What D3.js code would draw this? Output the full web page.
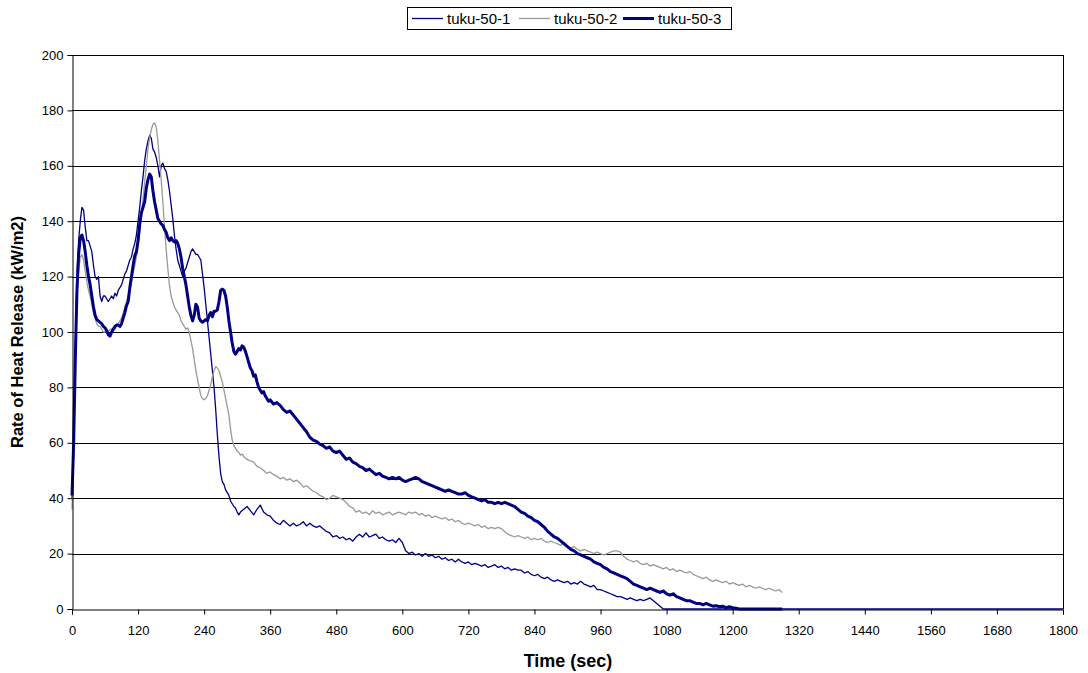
<!DOCTYPE html>
<html>
<head>
<meta charset="utf-8">
<script src="https://cdn.jsdelivr.net/npm/d3@7"></script>
<style>
  html, body { margin: 0; padding: 0; background: #fff; }
  svg { display: block; font-family: "Liberation Sans", Arial, sans-serif; }
</style>
</head>
<body>
<svg id="chart" width="1088" height="673"></svg>
<script>
// Heat release rate curves for three tuku-50 specimens
const seriesNames = ["tuku-50-1", "tuku-50-2", "tuku-50-3"];
const xTicks = [0,120,240,360,480,600,720,840,960,1080,1200,1320,1440,1560,1680,1800];
const yTicks = [0,20,40,60,80,100,120,140,160,180,200];

const t1 = [0,3,6,9,12,15,18,21,24,27,30,33,36,39,42,45,48,51,54,57,60,63,66,69,72,75,78,81,84,87,90,93,96,99,102,105,108,111,114,117,120,123,126,129,132,135,138,141,144,147,150,153,156,159,162,165,168,171,174,177,180,183,186,189,192,195,198,201,204,207,210,213,216,219,222,225,228,231,234,237,240,243,246,249,252,255,258,261,264,267,270,273,276,279,282,285,288,291,294,297,300,303,
306,312,318,324,330,336,342,348,354,360,366,372,378,384,390,396,402,408,414,420,426,432,438,444,450,456,462,468,474,480,486,492,498,504,510,516,522,528,534,540,546,552,558,564,570,576,582,588,594,600,606,612,618,624,630,636,642,648,654,660,666,672,678,684,690,696,702,708,714,720,726,732,738,744,750,756,762,768,774,780,786,792,798,804,810,816,822,828,834,840,846,852,858,864,870,876,882,888,894,900,906,912,918,924,930,936,942,948,954,960,966,972,978,984,990,996,1002,1008,1014,1020,1026,1032,1038,1044,1050,1056,1062,1068,1074,1800];
const v1 = [40,60,95,120,133,140,145,144,138,133,133,131,129,124,120,119,120,113,111,113,113,112,111,112,113,112,114,113,115,116,117,119,121,122,124,126,127,130,132,135,140,145,151,156,162,166,169,171,170,166,165,163,160,156,160,161,159,158,155,151,146,141,135,130,126,124,122,120,122,123,125,127,129,130,129,128,128,127,126,121,116,110,104,98,92,86,80,72,63,55,49,46,45,43,42,41,39,38,37,36.5,35,34,
35,36,37,35.5,34,36,37.5,35,34,33.5,32,31,30.5,32,31,30,31,30,30.5,31.5,30,31,30,29.5,30,29,28,27.5,26,26.5,25.5,26,25,25.5,24.5,26,27,26,27.5,26,26.5,27,25.5,26,25,24.5,25,24,25.5,24,21,20,20.5,19.5,20,19,20,19,19.5,18.5,19,18,18.5,17.5,18,17,18,17,16.5,17,16,16.5,16,15.5,16,15,15.5,16,15,15.5,14.5,15,14,14.5,14,14,13,13.5,12.5,12,12.5,11.5,11,11.5,10.5,10,10.5,10,9.5,10,9,9.5,9,10,9,8.5,8,8.5,7,7,6.5,6,5.5,5,4.5,4.5,4,3.5,4,3.5,3,3.5,3,3.5,4,3,2,1,0,0];

const t2 = [0,3,6,9,12,15,18,21,24,27,30,33,36,39,42,45,48,51,54,57,60,63,66,69,72,75,78,81,84,87,90,93,96,99,102,105,108,111,114,117,120,123,126,129,132,135,138,141,144,147,150,153,156,159,162,165,168,171,174,177,180,183,186,189,192,195,198,201,204,207,210,213,216,219,222,225,228,231,234,237,240,243,246,249,252,255,258,261,264,267,270,273,276,279,282,285,288,291,294,297,300,303,306,309,
312,318,324,330,336,342,348,354,360,366,372,378,384,390,396,402,408,414,420,426,432,438,444,450,456,462,468,474,480,486,492,498,504,510,516,522,528,534,540,546,552,558,564,570,576,582,588,594,600,606,612,618,624,630,636,642,648,654,660,666,672,678,684,690,696,702,708,714,720,726,732,738,744,750,756,762,768,774,780,786,792,798,804,810,816,822,828,834,840,846,852,858,864,870,876,882,888,894,900,906,912,918,924,930,936,942,948,954,960,966,972,978,984,990,996,1002,1008,1014,1020,1026,1032,1038,1044,1050,1056,1062,1068,1074,1080,1086,1092,1098,1104,1110,1116,1122,1128,1134,1140,1146,1152,1158,1164,1170,1176,1182,1188,1194,1200,1206,1212,1218,1224,1230,1236,1242,1248,1254,1260,1266,1272,1278,1284,1290];
const v2 = [36,55,90,112,122,127,128,126,122,118,115,113,110,107,105,103,102,102,101,100,100,100.5,100,101,101,101.5,101,102,103,104,105,107,109,111,113,115,118,121,124,127,131,136,142,148,154,160,166,170,173,175,175.5,174,169,162,155,147,138,130,123,117,113,111,109,108,107,106,104,103,102,101,101.5,100,97,94,90,86,83,80,77,76,75.5,76,77,79,81,84,86,87.5,87,86,84,82,79,76,73,70,65,61,59,58,57,56.5,55.5,56,
55,54,53.5,53,51.5,51,50,49,49.5,48.5,48,47,47.5,46.5,47,46,46.5,45.5,44,44.5,43.5,42.5,42,41,40.5,39.5,40,41,40.5,40,39.5,38.5,37,36.5,35,35.5,34.5,35,34,35.5,34.5,35,34,34.5,35,34,34.5,35,34.5,34,35,34.5,35,34,34.5,33.5,34,33,33.5,33,32.5,33,32,32.5,31.5,32,31,30.5,31,30.5,30,30.5,29.5,30,29,29.5,29,29.5,29,28,27,26.5,26,26.5,26,25.5,26,25,25.5,25,25.5,24.5,24,24.5,24,23.5,23,24,22.5,22,22.5,21.5,21,21.5,21,20.5,20,20.5,20,19.5,20,20.5,21,21,20.5,19,18,17.5,17,17.5,16.5,16,16.5,15.5,16,15.5,15,14.5,15,14,14.5,13.5,14,13.5,13,13.5,12.5,12,11.5,11,11.5,10.5,10,10.5,10,9.5,10,9,9.5,9,8.5,9,8,8.5,8,7.5,8,7.5,7,7.5,7,6.5,7,6];

const t3 = [0,3,6,9,12,15,18,21,24,27,30,33,36,39,42,45,48,51,54,57,60,63,66,69,72,75,78,81,84,87,90,93,96,99,102,105,108,111,114,117,120,123,126,129,132,135,138,141,144,147,150,153,156,159,162,165,168,171,174,177,180,183,186,189,192,195,198,201,204,207,210,213,216,219,222,225,228,231,234,237,240,243,246,249,252,255,258,261,264,267,270,273,276,279,282,285,288,291,294,297,300,303,306,309,312,315,318,321,324,327,330,333,336,339,342,345,348,351,354,357,
360,366,372,378,384,390,396,402,408,414,420,426,432,438,444,450,456,462,468,474,480,486,492,498,504,510,516,522,528,534,540,546,552,558,564,570,576,582,588,594,600,606,612,618,624,630,636,642,648,654,660,666,672,678,684,690,696,702,708,714,720,726,732,738,744,750,756,762,768,774,780,786,792,798,804,810,816,822,828,834,840,846,852,858,864,870,876,882,888,894,900,906,912,918,924,930,936,942,948,954,960,966,972,978,984,990,996,1002,1008,1014,1020,1026,1032,1038,1044,1050,1056,1062,1068,1074,1080,1086,1092,1098,1104,1110,1116,1122,1128,1134,1140,1146,1152,1158,1164,1170,1176,1182,1188,1194,1200,1206,1212,1290];
const v3 = [41,60,90,115,128,134,135,133,129,124,120,117,113,109,106,104.5,104,103.5,103,102,101.5,100.5,99,98.5,100,101,102,102.5,102.5,102,103,105,107,109.5,111,116,120,124,127.5,129,133,139,143,145,147,152,155,157,156,151,147,144,141,140,139,138.5,137,136,134,133,134,133,132.5,133,132,130,127,123,120,117,113,109,106,104,106,110,109,105,104,103.5,104,104.5,104,106,107,105.5,107.5,107.5,108,111,115,115.5,115,113,109,104,100,96,93,92,93,94,93.5,95,94.5,93,91,89,87,86,84,84.5,82,80,79,78,78.5,77,76,75,
75.5,74,74.5,73.5,72,71,71.5,70,68.5,67,65.5,64,62,61,60.5,59.5,59,58,58.5,57,56.5,57,55.5,54,54.5,53,52.5,51.5,51,50,50.5,49.5,48.5,49,48,47.5,47,47.5,47,47.5,46.5,46,46.5,47,47.5,47,46,45.5,45,44.5,44,43.5,43,42.5,43,42.5,42,41.5,41.5,42,41,40.5,40,39.5,39,39.5,38.5,38.5,38,38.5,38,38.5,38,37.5,37,36,35,34.5,33.5,33,32,31.5,30.5,29.5,28,27,26,25.5,24.5,23.5,22.5,21.5,21,20,19.5,19,18.5,18,17,16.5,16,15,14.5,13.5,13,12.5,12,11.5,11,10,9,8.5,8,7.5,7,7.5,7,6.5,6,6.5,5.5,5,5.5,4.5,4,3.5,3,3,2.5,2,2,1.5,2,1.5,1,1.2,0.8,1,0.5,0.8,0.5,0.3,0,0];

const svg = d3.select("#chart");
const plot = { left: 72, top: 55, right: 1063, bottom: 609 };

const x = d3.scaleLinear().domain([0, 1800]).range([plot.left, plot.right]);
const y = d3.scaleLinear().domain([0, 200]).range([plot.bottom, plot.top]);

// horizontal gridlines
svg.append("g")
  .selectAll("line")
  .data(yTicks.filter(d => d > 0))
  .join("line")
  .attr("x1", plot.left).attr("x2", plot.right)
  .attr("y1", d => Math.round(y(d)) + 0.5).attr("y2", d => Math.round(y(d)) + 0.5)
  .attr("stroke", "#000").attr("stroke-width", 1);

// plot border (right side)
svg.append("line")
  .attr("x1", Math.round(plot.right) + 0.5).attr("x2", Math.round(plot.right) + 0.5)
  .attr("y1", plot.top).attr("y2", plot.bottom)
  .attr("stroke", "#000");

// curves
const line = d3.line().x(d => x(d[0])).y(d => y(d[1]));
const curves = [
  { t: t1, v: v1, color: "#000080", width: 1.3 },
  { t: t2, v: v2, color: "#999999", width: 1.3 },
  { t: t3, v: v3, color: "#000080", width: 3 }
];
curves.forEach(c => {
  const pts = c.t.map((tt, k) => [tt, c.v[k]]);
  svg.append("path")
    .datum(pts)
    .attr("fill", "none")
    .attr("stroke", c.color)
    .attr("stroke-width", c.width)
    .attr("stroke-linejoin", "round")
    .attr("d", line);
});

// axes
const xAxis = d3.axisBottom(x).tickValues(xTicks).tickSize(5).tickPadding(8).tickFormat(d3.format("d"));
const gx = svg.append("g").attr("transform", `translate(0,${Math.round(plot.bottom) + 0.5})`).call(xAxis);
const yAxis = d3.axisLeft(y).tickValues(yTicks).tickSize(5).tickPadding(4).tickFormat(d3.format("d"));
const gy = svg.append("g").attr("transform", `translate(${plot.left + 0.5},0)`).call(yAxis);
[gx, gy].forEach(g => {
  g.select(".domain").attr("stroke", "#000");
  g.selectAll(".tick line").attr("stroke", "#000");
  g.selectAll(".tick text").attr("fill", "#000")
    .style("font-family", "'Liberation Sans', Arial, sans-serif").style("font-size", "13px");
});
gx.selectAll(".tick text").attr("dy", "0.95em");

// axis titles
svg.append("text")
  .attr("x", 568).attr("y", 667)
  .attr("text-anchor", "middle")
  .style("font-size", "18px").style("font-weight", "bold")
  .text("Time (sec)");
svg.append("text")
  .attr("transform", `translate(23,${(plot.top + plot.bottom) / 2}) rotate(-90)`)
  .attr("text-anchor", "middle")
  .style("font-size", "16.5px").style("font-weight", "bold")
  .text("Rate of Heat Release (kW/m2)");

// legend
const legend = svg.append("g");
legend.append("rect")
  .attr("x", 407.5).attr("y", 7.5).attr("width", 324).attr("height", 22)
  .attr("fill", "#fff").attr("stroke", "#000");
const legendX = [412, 519, 623];
seriesNames.forEach((name, i) => {
  const c = curves[i];
  const g = legend.append("g").attr("transform", `translate(${legendX[i]},18.5)`);
  g.append("line").attr("x1", 0).attr("x2", 31).attr("y1", 0).attr("y2", 0)
    .attr("stroke", c.color).attr("stroke-width", c.width);
  g.append("text").attr("x", 35).attr("y", 0).attr("dy", "0.35em")
    .style("font-size", "15px").text(name);
});
</script>
</body>
</html>
